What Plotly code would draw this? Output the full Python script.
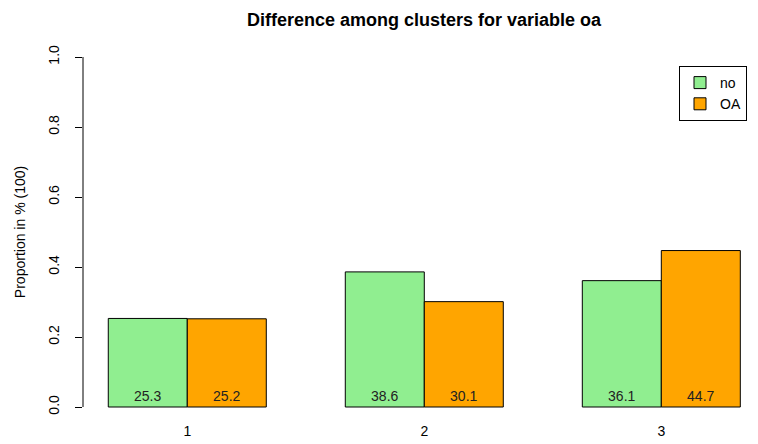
import plotly.graph_objects as go

clusters = ["1", "2", "3"]
no_vals = [0.253, 0.386, 0.361]
oa_vals = [0.252, 0.301, 0.447]
no_labels = ["25.3", "38.6", "36.1"]
oa_labels = ["25.2", "30.1", "44.7"]
y_ticks = [0.0, 0.2, 0.4, 0.6, 0.8, 1.0]
y_ticktext = ["0.0", "0.2", "0.4", "0.6", "0.8", "1.0"]

FONT = "Liberation Sans, Arial, sans-serif"

# page body has an 8px margin, so the figure is laid out 8px smaller
W, H = 750, 436
L, T, B, R = 75, 35, 23, 0
PW, PH = W - L - R, H - T - B

fig = go.Figure()
fig.add_trace(go.Bar(
    x=clusters, y=no_vals, name="no", text=no_labels,
    textposition="inside", insidetextanchor="start",
    textfont=dict(color="#222222", size=14, family=FONT),
    marker=dict(color="#90EE90", line=dict(color="black", width=1)),
))
fig.add_trace(go.Bar(
    x=clusters, y=oa_vals, name="OA", text=oa_labels,
    textposition="inside", insidetextanchor="start",
    textfont=dict(color="#222222", size=14, family=FONT),
    marker=dict(color="#FFA500", line=dict(color="black", width=1)),
))

fig.update_layout(
    width=W, height=H,
    margin=dict(l=L, r=R, t=T, b=B),
    barmode="group", bargap=1/3, bargroupgap=0,
    plot_bgcolor="white", paper_bgcolor="white",
    font=dict(family=FONT, size=14, color="black"),
    title=dict(text="<b>Difference among clusters for variable oa</b>",
               x=416 / W, xanchor="center", y=1 - 12 / H, yanchor="middle",
               font=dict(size=18, family=FONT, color="black")),
    showlegend=True,
    legend=dict(x=(739 - L) / PW, xanchor="right", y=1 - (58 - T) / PH, yanchor="top",
                bordercolor="black", borderwidth=1, bgcolor="white",
                font=dict(size=14, family=FONT), itemwidth=30,
                tracegroupgap=0),
    uniformtext=dict(mode=False),
)
fig.update_xaxes(
    type="category", range=[-0.44, 2.408], showgrid=False, showline=False,
    ticks="", zeroline=False, tickfont=dict(size=14, family=FONT),
)
fig.update_yaxes(
    range=[-0.04, 1.04], tickvals=y_ticks, ticktext=y_ticktext,
    tickangle=-90, ticks="outside", ticklen=7, tickcolor="black", tickwidth=1,
    ticklabelstandoff=10,
    showgrid=False, zeroline=False, showline=False,
    tickfont=dict(size=14, family=FONT),
    title=dict(text="Proportion in % (100)", font=dict(size=14, family=FONT), standoff=17),
    automargin=False,
)
fig.add_shape(type="line", xref="paper", yref="y", x0=0, x1=0, y0=0, y1=1,
              line=dict(color="black", width=1))

fig.write_html("out.html")
